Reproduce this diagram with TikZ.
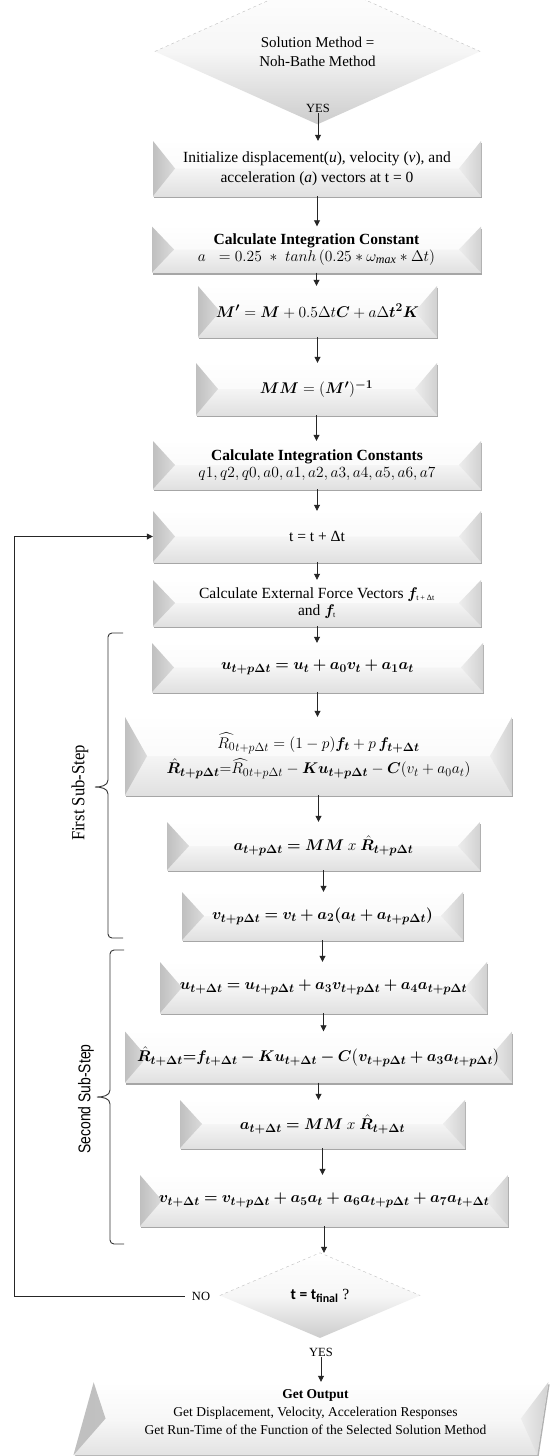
\documentclass[tikz,border=0pt]{standalone}
\usepackage{fix-cm}
\usepackage{amsmath}
\usepackage{bm}
\usepackage{fontspec}
\setmainfont{Liberation Serif}
\newfontfamily\serfam{Liberation Serif}
\newfontfamily\carlito{Carlito}
\newfontfamily\sansfam{Liberation Sans}
\DeclareMathSizes{15.5}{15.5}{12}{9.5}
\usetikzlibrary{shapes.geometric,shadows,arrows.meta,calc}

\tikzset{
  bev/.style={rectangle, align=center, inner sep=3pt,
    font=\fontsize{15.5}{20}\selectfont,
    top color=white, bottom color=gray!24, middle color=gray!8,
    drop shadow={shadow xshift=1.2pt, shadow yshift=-2.4pt, fill=black, opacity=0.35},
    path picture={
      \fill[white, opacity=0.6]
        (path picture bounding box.north west) -- ([xshift=22pt]path picture bounding box.west) -- ([xshift=-22pt]path picture bounding box.east) -- (path picture bounding box.north east) -- cycle;
      \shade[left color=gray!50, right color=gray!28]
        (path picture bounding box.north west) -- ([xshift=22pt]path picture bounding box.west) -- (path picture bounding box.south west) -- cycle;
      \shade[left color=gray!14, right color=gray!36]
        (path picture bounding box.north east) -- ([xshift=-22pt]path picture bounding box.east) -- (path picture bounding box.south east) -- cycle;
    }},
  eq/.style={font=\fontsize{15.5}{20}\selectfont},
  dia/.style={diamond, align=center, inner sep=0pt,
    top color=white, bottom color=gray!40, middle color=gray!7},
  diaedge/.style={dashed, gray!50, line width=0.4pt},
  outsh/.style={trapezium, trapezium left angle=74.7, trapezium right angle=98.6,
    trapezium stretches=true, align=center, inner sep=0pt,
    font=\fontsize{13.5}{18}\selectfont,
    top color=white, bottom color=gray!22, middle color=gray!6,
    drop shadow={shadow xshift=1.2pt, shadow yshift=-2.4pt, fill=black, opacity=0.3},
    path picture={
      \shade[left color=gray!50, right color=gray!28]
        ([xshift=20pt]path picture bounding box.north west) -- ([xshift=32pt]path picture bounding box.west) -- (path picture bounding box.south west) -- cycle;
      \shade[left color=gray!14, right color=gray!36]
        (path picture bounding box.north east) -- ([xshift=-27.5pt]path picture bounding box.east) -- ([xshift=-11pt]path picture bounding box.south east) -- cycle;
    }},
  lbl/.style={font=\fontsize{12.5}{14}\selectfont, inner sep=1pt},
  arr/.style={-{Triangle[length=6pt,width=6pt]}, black!85, line width=0.8pt},
  bracestyle/.style={black!80, line width=0.9pt},
}

\begin{document}
\begin{tikzpicture}[x=1pt,y=-1pt]
\fill[white] (0,0) rectangle (553,1456);
\useasboundingbox (0,0) rectangle (553,1456);

% decision 1
\node[dia, minimum width=325pt, minimum height=83pt, font=\fontsize{15}{19}\selectfont] (d1) at (317.5,51.5) {Solution Method =\\Noh-Bathe Method};
\draw[diaedge] (d1.west) -- (d1.north) -- (d1.east);
\node[lbl] (yes1) at (318,108) {YES};

\node[bev, minimum width=328pt, minimum height=55pt] (init) at (317,168.5)
  {Initialize displacement(\textit{u}), velocity (\textit{v}), and\\acceleration (\textit{a}) vectors at t = 0};

\node[bev, minimum width=329pt, minimum height=46pt] (c1) at (316.5,249.5)
  {\textbf{Calculate Integration Constant}\\[-3pt]$a\;\;=0.25\;*\;tanh\,(0.25*\omega_{\mathit{max}}*\Delta t)$};

\node[bev, eq, minimum width=239pt, minimum height=51pt] (mp) at (317.5,311.5)
  {$\bm{M'} = \bm{M} + 0.5\Delta t\bm{C} + a\Delta \bm{t^2 K}$};

\node[bev, eq, minimum width=241pt, minimum height=52pt] (mm) at (316.5,389)
  {$\bm{MM} = (\bm{M'})^{\bm{-1}}$};

\node[bev, minimum width=328pt, minimum height=48pt] (c2) at (317,465)
  {\textbf{Calculate Integration Constants}\\[-3pt]$q1, q2, q0, a0, a1, a2, a3, a4, a5, a6, a7$};

\node[bev, minimum width=328pt, minimum height=51pt] (tb) at (317,536.5)
  {t = t + Δt};

\node[bev, minimum width=328pt, minimum height=46pt] (fb) at (317,603)
  {Calculate External  Force Vectors $\bm{f}_{\text{\fontsize{8}{8}\selectfont t + Δt}}$\\[-3pt]and $\bm{f}_{\text{\fontsize{8}{8}\selectfont t}}$};

\node[bev, eq, minimum width=331pt, minimum height=49pt] (u1) at (317.5,667.5)
  {$\bm{u_{t+p\Delta t} = u_t + a_0 v_t + a_1 a_t}$};

\node[bev, eq, minimum width=387pt, minimum height=78pt] (r1) at (318.5,756)
  {$\widehat{R_0}_{t+p\Delta t} = (1-p)\bm{f_t} + p\,\bm{f_{t+\Delta t}}$\\[4pt]
   $\bm{\hat R_{t+p\Delta t}}{=}\widehat{R_0}_{t+p\Delta t} - \bm{K u_{t+p\Delta t}} - \bm{C}(v_t + a_0 a_t)$};

\node[bev, eq, minimum width=313pt, minimum height=48pt] (a1) at (323.5,846)
  {$\bm{a_{t+p\Delta t} = MM}\ x\ \bm{\hat R_{t+p\Delta t}}$};

\node[bev, eq, minimum width=281pt, minimum height=48pt] (v1) at (322.5,916)
  {$\bm{v_{t+p\Delta t} = v_t + a_2(a_t + a_{t+p\Delta t})}$};

\node[bev, eq, minimum width=327pt, minimum height=51pt] (u2) at (323.5,987.5)
  {$\bm{u_{t+\Delta t} = u_{t+p\Delta t} + a_3 v_{t+p\Delta t} + a_4 a_{t+p\Delta t}}$};

\node[bev, eq, minimum width=387pt, minimum height=51pt] (r2) at (318.5,1057)
  {$\bm{\hat R_{t+\Delta t}{=}f_{t+\Delta t} - K u_{t+\Delta t} - C\bigl(v_{t+p\Delta t} + a_3 a_{t+p\Delta t}\bigr)}$};

\node[bev, eq, minimum width=285pt, minimum height=48pt] (a2) at (322.5,1124)
  {$\bm{a_{t+\Delta t} = MM}\ x\ \bm{\hat R_{t+\Delta t}}$};

\node[bev, eq, minimum width=368pt, minimum height=51pt] (v2) at (324,1200.5)
  {$\bm{v_{t+\Delta t} = v_{t+p\Delta t} + a_5 a_t + a_6 a_{t+p\Delta t} + a_7 a_{t+\Delta t}}$};

% decision 2
\node[dia, minimum width=200pt, minimum height=85pt, font=\fontsize{15.5}{18}\selectfont] (d2) at (320,1295.5)
  {{\carlito\bfseries t = t\textsubscript{final}} ?};
\draw[diaedge] (d2.west) -- (d2.north) -- (d2.east);
\node[lbl] (no) at (201,1296) {NO};
\node[lbl] (yes2) at (321,1352) {YES};

\node[outsh, minimum width=475pt, minimum height=73pt] (out) at (315.5,1418.5)
  {\textbf{Get Output}\\Get Displacement, Velocity, Acceleration Responses\\Get Run-Time  of the Function of the Selected Solution Method\\[-6pt]\mbox{}};

% connectors
\draw[arr] (yes1.south) -- (yes1.south |- init.north);
\draw[arr] (init.south) -- (init.south |- c1.north);
\draw[arr] (c1.south) -- (c1.south |- mp.north);
\draw[arr] (mp.south) -- (mp.south |- mm.north);
\draw[arr] (mm.south) -- (mm.south |- c2.north);
\draw[arr] (c2.south) -- (c2.south |- tb.north);
\draw[arr] (tb.south) -- (tb.south |- fb.north);
\draw[arr] (fb.south) -- (fb.south |- u1.north);
\draw[arr] (u1.south) -- (u1.south |- r1.north);
\draw[arr] (r1.south) -- (r1.south |- a1.north);
\draw[arr] (a1.south) -- (a1.south |- v1.north);
\draw[arr] (v1.south) -- (v1.south |- u2.north);
\draw[arr] (u2.south) -- (u2.south |- r2.north);
\draw[arr] (r2.south) -- (r2.south |- a2.north);
\draw[arr] (a2.south) -- (a2.south |- v2.north);
\draw[arr] (v2.south) -- (v2.south |- d2.north);
\draw[arr] (yes2.south) -- (yes2.south |- out.north);

\coordinate (lc) at (14,1296);
\draw[arr, shorten <=6pt] (no.west) -- (lc) |- (tb.west);

% braces
\draw[bracestyle, rounded corners=4pt] (123,633) -- (108,633) -- (108,780);
\draw[bracestyle] (108,780) to[out=-90,in=0] (95,787) to[out=0,in=90] (108,794);
\draw[bracestyle, rounded corners=4pt] (108,794) -- (108,938) -- (123,938);
\draw[bracestyle, rounded corners=4pt] (124,950) -- (110,950) -- (110,1090);
\draw[bracestyle] (110,1090) to[out=-90,in=0] (97,1097) to[out=0,in=90] (110,1104);
\draw[bracestyle, rounded corners=4pt] (110,1104) -- (110,1244) -- (124,1244);

\node[rotate=90, font=\fontsize{18.5}{20}\selectfont\serfam, inner sep=0pt] (s1) at (80,793) {\scalebox{0.9}[1]{First Sub-Step}};
\node[rotate=90, font=\fontsize{17}{18}\selectfont\sansfam, inner sep=0pt] (s2) at (86,1099) {\scalebox{0.82}[1]{Second Sub-Step}};
\end{tikzpicture}
\end{document}
